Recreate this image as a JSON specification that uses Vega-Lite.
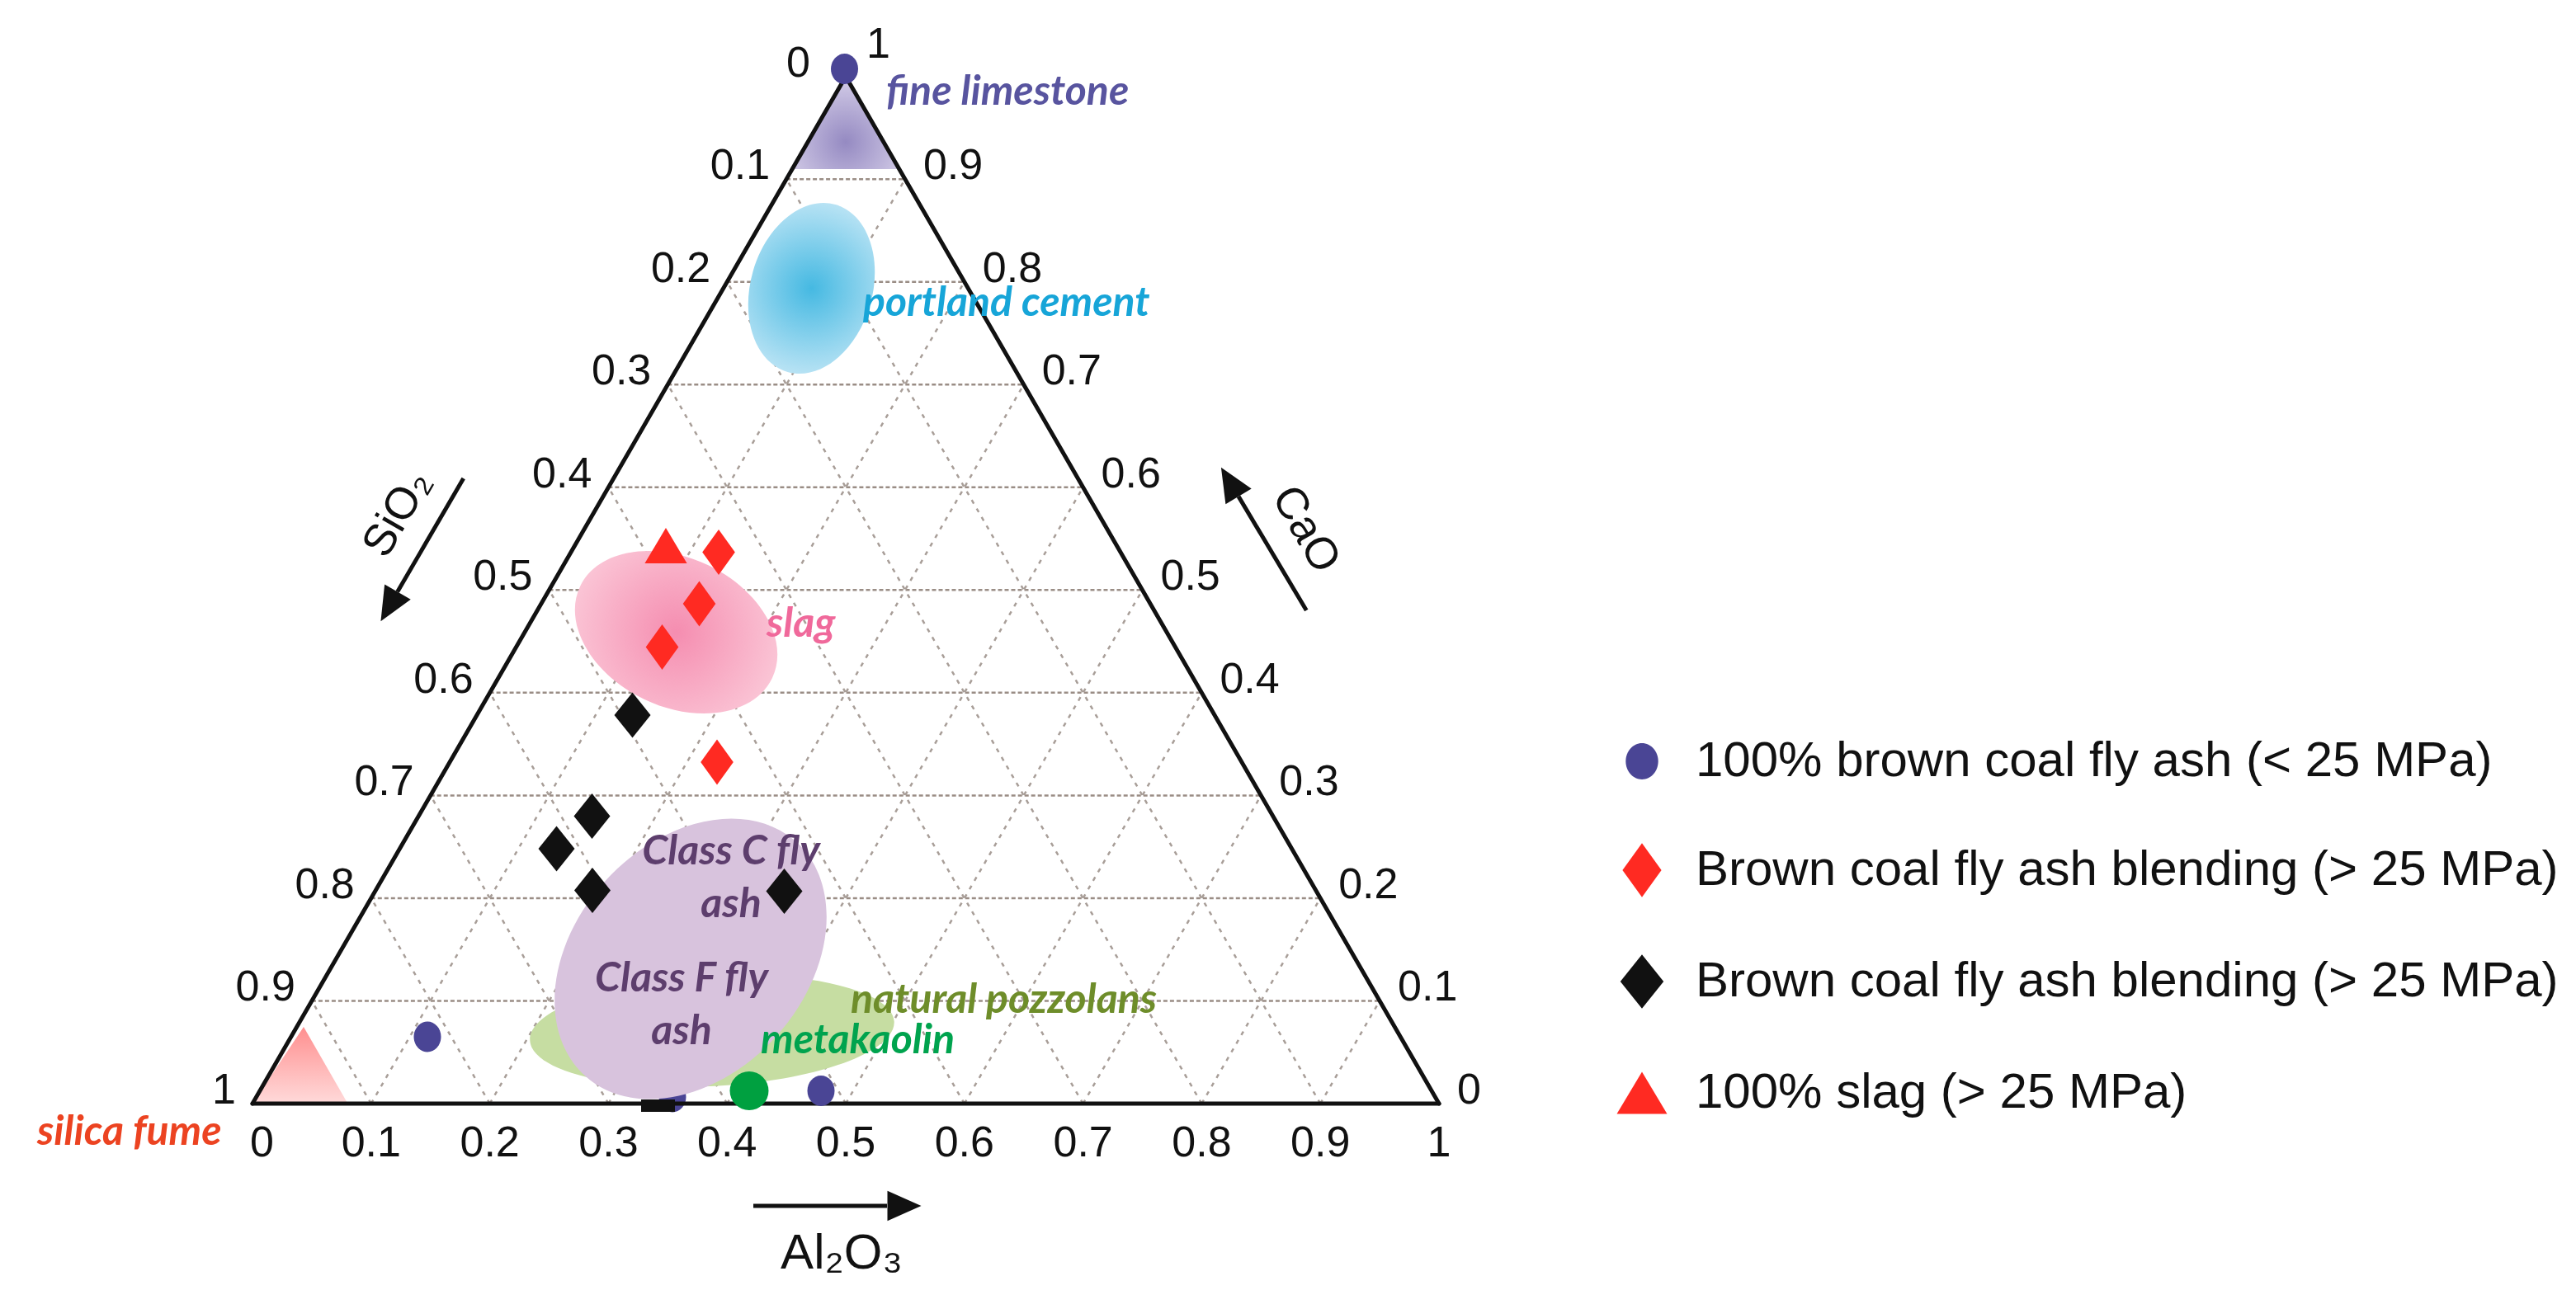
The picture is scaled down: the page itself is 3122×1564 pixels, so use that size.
{
  "$schema": "https://vega.github.io/schema/vega-lite/v6.json",
  "width": 3122,
  "height": 1564,
  "autosize": {"type": "none"},
  "padding": 0,
  "background": "white",
  "config": {"view": {"stroke": null}},
  "datasets": {
    "gridH": [
      {"u": 0.05, "v": 0.08660, "u2": 0.95, "v2": 0.08660},
      {"u": 0.10, "v": 0.17321, "u2": 0.90, "v2": 0.17321},
      {"u": 0.15, "v": 0.25981, "u2": 0.85, "v2": 0.25981},
      {"u": 0.20, "v": 0.34641, "u2": 0.80, "v2": 0.34641},
      {"u": 0.25, "v": 0.43301, "u2": 0.75, "v2": 0.43301},
      {"u": 0.30, "v": 0.51962, "u2": 0.70, "v2": 0.51962},
      {"u": 0.35, "v": 0.60622, "u2": 0.65, "v2": 0.60622},
      {"u": 0.40, "v": 0.69282, "u2": 0.60, "v2": 0.69282},
      {"u": 0.45, "v": 0.77942, "u2": 0.55, "v2": 0.77942}
    ],
    "gridD": [
      {"u": 0.1, "v": 0, "u2": 0.55, "v2": 0.77942},
      {"u": 0.2, "v": 0, "u2": 0.60, "v2": 0.69282},
      {"u": 0.3, "v": 0, "u2": 0.65, "v2": 0.60622},
      {"u": 0.4, "v": 0, "u2": 0.70, "v2": 0.51962},
      {"u": 0.5, "v": 0, "u2": 0.75, "v2": 0.43301},
      {"u": 0.6, "v": 0, "u2": 0.80, "v2": 0.34641},
      {"u": 0.7, "v": 0, "u2": 0.85, "v2": 0.25981},
      {"u": 0.8, "v": 0, "u2": 0.90, "v2": 0.17321},
      {"u": 0.9, "v": 0, "u2": 0.95, "v2": 0.08660},
      {"u": 0.1, "v": 0, "u2": 0.05, "v2": 0.08660},
      {"u": 0.2, "v": 0, "u2": 0.10, "v2": 0.17321},
      {"u": 0.3, "v": 0, "u2": 0.15, "v2": 0.25981},
      {"u": 0.4, "v": 0, "u2": 0.20, "v2": 0.34641},
      {"u": 0.5, "v": 0, "u2": 0.25, "v2": 0.43301},
      {"u": 0.6, "v": 0, "u2": 0.30, "v2": 0.51962},
      {"u": 0.7, "v": 0, "u2": 0.35, "v2": 0.60622},
      {"u": 0.8, "v": 0, "u2": 0.40, "v2": 0.69282},
      {"u": 0.9, "v": 0, "u2": 0.45, "v2": 0.77942}
    ],
    "frame": [
      {"u": 0, "v": 0, "u2": 1, "v2": 0},
      {"u": 1, "v": 0, "u2": 0.5, "v2": 0.866025},
      {"u": 0.5, "v": 0.866025, "u2": 0, "v2": 0}
    ],
    "regions": [
      {"region": "natural pozzolans", "u": 0.38734, "v": 0.06120},
      {"region": "fly ash", "u": 0.36926, "v": 0.12204},
      {"region": "portland cement", "u": 0.47114, "v": 0.68741},
      {"region": "slag", "u": 0.35709, "v": 0.39743}
    ],
    "corners": [
      {"region": "fine limestone", "pt": 1, "u": 0.5, "v": 0.866025},
      {"region": "fine limestone", "pt": 2, "u": 0.54511, "v": 0.78790},
      {"region": "fine limestone", "pt": 3, "u": 0.45489, "v": 0.78790},
      {"region": "silica fume", "pt": 1, "u": 0, "v": 0},
      {"region": "silica fume", "pt": 2, "u": 0.0803, "v": 0},
      {"region": "silica fume", "pt": 3, "u": 0.04312, "v": 0.06467}
    ],
    "points": [
      {"series": "100% brown coal fly ash (< 25 MPa)", "u": 0.49896, "v": 0.87239},
      {"series": "100% brown coal fly ash (< 25 MPa)", "u": 0.14743, "v": 0.05633},
      {"series": "100% brown coal fly ash (< 25 MPa)", "u": 0.47914, "v": 0.01078},
      {"series": "Brown coal fly ash blending (> 25 MPa)", "u": 0.39291, "v": 0.46488},
      {"series": "Brown coal fly ash blending (> 25 MPa)", "u": 0.37656, "v": 0.42142},
      {"series": "Brown coal fly ash blending (> 25 MPa)", "u": 0.34527, "v": 0.38491},
      {"series": "Brown coal fly ash blending (> 25 MPa)", "u": 0.39152, "v": 0.28790},
      {"series": "Brown coal fly ash blending (> 25 MPa) (black)", "u": 0.32024, "v": 0.32754},
      {"series": "Brown coal fly ash blending (> 25 MPa) (black)", "u": 0.28616, "v": 0.24235},
      {"series": "Brown coal fly ash blending (> 25 MPa) (black)", "u": 0.25626, "v": 0.21488},
      {"series": "Brown coal fly ash blending (> 25 MPa) (black)", "u": 0.28651, "v": 0.17976},
      {"series": "Brown coal fly ash blending (> 25 MPa) (black)", "u": 0.44819, "v": 0.17907},
      {"series": "100% slag (> 25 MPa)", "u": 0.34840, "v": 0.47045}
    ],
    "hiddenDot": [{"series": "100% brown coal fly ash (< 25 MPa)", "u": 0.35396, "v": 0.00556}],
    "metakaolinPt": [{"material": "metakaolin", "u": 0.41864, "v": 0.01078}],
    "baseMark": [{"series": "Brown coal fly ash blending (> 25 MPa)", "u": 0.34179, "v": -0.00174}],
    "regionLabels": [
      {"region": "fine limestone", "text": "fine limestone", "u": 0.53408, "v": 0.84214},
      {"region": "portland cement", "text": "portland cement", "u": 0.51460, "v": 0.66412},
      {"region": "slag", "text": "slag", "u": 0.43324, "v": 0.39360},
      {"region": "natural pozzolans", "text": "natural pozzolans", "u": 0.50417, "v": 0.07650},
      {"region": "metakaolin", "text": "metakaolin", "u": 0.42837, "v": 0.04242},
      {"region": "silica fume", "text": "silica fume", "u": -0.18150, "v": -0.03477}
    ],
    "flyAshLabels": [
      {"region": "fly ash", "text": "Class C fly\nash", "u": 0.40334, "v": 0.20167},
      {"region": "fly ash", "text": "Class F fly\nash", "u": 0.36161, "v": 0.09478}
    ],
    "ticksLeft": [
      {"label": "0", "u": 0.48401, "v": 0.866025},
      {"label": "0.1", "u": 0.45, "v": 0.77942},
      {"label": "0.2", "u": 0.40, "v": 0.69282},
      {"label": "0.3", "u": 0.35, "v": 0.60622},
      {"label": "0.4", "u": 0.30, "v": 0.51962},
      {"label": "0.5", "u": 0.25, "v": 0.43301},
      {"label": "0.6", "u": 0.20, "v": 0.34641},
      {"label": "0.7", "u": 0.15, "v": 0.25981},
      {"label": "0.8", "u": 0.10, "v": 0.17321},
      {"label": "0.9", "u": 0.05, "v": 0.08660},
      {"label": "1", "u": 0, "v": 0}
    ],
    "ticksRight": [
      {"label": "1", "u": 0.50209, "v": 0.88178},
      {"label": "0.9", "u": 0.55, "v": 0.77942},
      {"label": "0.8", "u": 0.60, "v": 0.69282},
      {"label": "0.7", "u": 0.65, "v": 0.60622},
      {"label": "0.6", "u": 0.70, "v": 0.51962},
      {"label": "0.5", "u": 0.75, "v": 0.43301},
      {"label": "0.4", "u": 0.80, "v": 0.34641},
      {"label": "0.3", "u": 0.85, "v": 0.25981},
      {"label": "0.2", "u": 0.90, "v": 0.17321},
      {"label": "0.1", "u": 0.95, "v": 0.08660},
      {"label": "0", "u": 1, "v": 0}
    ],
    "ticksBottom": [
      {"label": "0", "u": 0.008, "v": 0},
      {"label": "0.1", "u": 0.1, "v": 0},
      {"label": "0.2", "u": 0.2, "v": 0},
      {"label": "0.3", "u": 0.3, "v": 0},
      {"label": "0.4", "u": 0.4, "v": 0},
      {"label": "0.5", "u": 0.5, "v": 0},
      {"label": "0.6", "u": 0.6, "v": 0},
      {"label": "0.7", "u": 0.7, "v": 0},
      {"label": "0.8", "u": 0.8, "v": 0},
      {"label": "0.9", "u": 0.9, "v": 0},
      {"label": "1", "u": 1, "v": 0}
    ],
    "titles": [
      {"axis": "SiO2", "text": "SiO₂", "u": 0.12239, "v": 0.49722},
      {"axis": "CaO", "text": "CaO", "u": 0.88734, "v": 0.48401},
      {"axis": "Al2O3", "text": "Al₂O₃", "u": 0.49652, "v": -0.13908}
    ],
    "arrows": [
      {"axis": "SiO2", "u": 0.17782, "v": 0.52712, "u2": 0.12218, "v2": 0.43150},
      {"axis": "CaO", "u": 0.88825, "v": 0.41586, "u2": 0.83102, "v2": 0.51189},
      {"axis": "Al2O3", "u": 0.42211, "v": -0.08623, "u2": 0.53477, "v2": -0.08623}
    ],
    "heads": [
      {"axis": "SiO2", "u": 0.11523, "v": 0.41905},
      {"axis": "CaO", "u": 0.82371, "v": 0.52412},
      {"axis": "Al2O3", "u": 0.54937, "v": -0.08623}
    ]
  },
  "encoding": {
    "x": {"field": "u", "type": "quantitative", "scale": {"domain": [-0.212796, 1.958275], "nice": false, "zero": false}, "axis": null},
    "y": {"field": "v", "type": "quantitative", "scale": {"domain": [-0.157163, 0.930459], "nice": false, "zero": false}, "axis": null}
  },
  "resolve": {"scale": {"color": "independent", "shape": "independent"}, "legend": {"color": "independent", "shape": "independent"}},
  "layer": [
    {
      "data": {"name": "gridH"},
      "mark": {"type": "rule", "color": "#9a8d85", "strokeWidth": 2.5, "strokeDash": [5, 3]},
      "encoding": {"x2": {"field": "u2"}, "y2": {"field": "v2"}}
    },
    {
      "data": {"name": "gridD"},
      "mark": {"type": "rule", "color": "#a89e98", "strokeWidth": 2.5, "strokeDash": [5, 7]},
      "encoding": {"x2": {"field": "u2"}, "y2": {"field": "v2"}}
    },
    {
      "data": {"name": "hiddenDot"},
      "mark": {"type": "point", "filled": true, "opacity": 1, "size": 3025, "strokeWidth": 0, "color": "#4a4595",
        "shape": "M-0.6,0 C-0.6,-0.37 -0.3314,-0.67 0,-0.67 C0.3314,-0.67 0.6,-0.37 0.6,0 C0.6,0.37 0.3314,0.67 0,0.67 C-0.3314,0.67 -0.6,0.37 -0.6,0 Z"}
    },
    {
      "data": {"name": "regions"},
      "transform": [{"filter": "datum.region == 'natural pozzolans'"}],
      "mark": {"type": "point", "filled": true, "opacity": 1, "strokeWidth": 0, "size": 195364, "angle": 357,
        "fill": "#c6dda2",
        "shape": "M-1,0 C-1,-0.1674 -0.5523,-0.303 0,-0.303 C0.5523,-0.303 1,-0.1674 1,0 C1,0.1674 0.5523,0.303 0,0.303 C-0.5523,0.303 -1,0.1674 -1,0 Z"}
    },
    {
      "data": {"name": "regions"},
      "transform": [{"filter": "datum.region == 'fly ash'"}],
      "mark": {"type": "point", "filled": true, "opacity": 1, "strokeWidth": 0, "size": 145924, "angle": 312,
        "fill": "#d8c3dd",
        "shape": "M-1,0 C-1,-0.4048 -0.5523,-0.733 0,-0.733 C0.5523,-0.733 1,-0.4048 1,0 C1,0.4048 0.5523,0.733 0,0.733 C-0.5523,0.733 -1,0.4048 -1,0 Z"}
    },
    {
      "data": {"name": "regions"},
      "transform": [{"filter": "datum.region == 'portland cement'"}],
      "mark": {"type": "point", "filled": true, "opacity": 1, "strokeWidth": 0, "size": 44521, "angle": 16,
        "fill": {"gradient": "radial", "x1": 0.5, "y1": 0.5, "r1": 0, "x2": 0.5, "y2": 0.5, "r2": 0.55,
          "stops": [{"offset": 0, "color": "#45b9e2"}, {"offset": 1, "color": "#c4e7f6"}]},
        "shape": "M-0.7,0 C-0.7,-0.5523 -0.3866,-1 0,-1 C0.3866,-1 0.7,-0.5523 0.7,0 C0.7,0.5523 0.3866,1 0,1 C-0.3866,1 -0.7,0.5523 -0.7,0 Z"}
    },
    {
      "data": {"name": "regions"},
      "transform": [{"filter": "datum.region == 'slag'"}],
      "mark": {"type": "point", "filled": true, "opacity": 1, "strokeWidth": 0, "size": 66564, "angle": 25.6,
        "fill": {"gradient": "radial", "x1": 0.5, "y1": 0.5, "r1": 0, "x2": 0.5, "y2": 0.5, "r2": 0.55,
          "stops": [{"offset": 0, "color": "#f58db0"}, {"offset": 1, "color": "#fbcad9"}]},
        "shape": "M-1,0 C-1,-0.3855 -0.5523,-0.698 0,-0.698 C0.5523,-0.698 1,-0.3855 1,0 C1,0.3855 0.5523,0.698 0,0.698 C-0.5523,0.698 -1,0.3855 -1,0 Z"}
    },
    {
      "data": {"name": "corners"},
      "transform": [{"filter": "datum.region == 'fine limestone'"}],
      "mark": {"type": "line", "interpolate": "linear-closed", "strokeWidth": 0, "strokeOpacity": 0,
        "fill": {"gradient": "radial", "x1": 0.5, "y1": 0.68, "r1": 0, "x2": 0.5, "y2": 0.68, "r2": 0.6,
          "stops": [{"offset": 0, "color": "#958ac2"}, {"offset": 1, "color": "#d3cce7"}]}},
      "encoding": {"order": {"field": "pt", "type": "quantitative"}}
    },
    {
      "data": {"name": "corners"},
      "transform": [{"filter": "datum.region == 'silica fume'"}],
      "mark": {"type": "line", "interpolate": "linear-closed", "strokeWidth": 0, "strokeOpacity": 0,
        "fill": {"gradient": "linear", "x1": 0, "y1": 0, "x2": 0, "y2": 1,
          "stops": [{"offset": 0, "color": "#ff8f8f"}, {"offset": 1, "color": "#ffdada"}]}},
      "encoding": {"order": {"field": "pt", "type": "quantitative"}}
    },
    {
      "data": {"name": "frame"},
      "mark": {"type": "rule", "color": "#111111", "strokeWidth": 5, "strokeCap": "round"},
      "encoding": {"x2": {"field": "u2"}, "y2": {"field": "v2"}}
    },
    {
      "data": {"name": "metakaolinPt"},
      "mark": {"type": "point", "shape": "circle", "filled": true, "opacity": 1, "strokeWidth": 0, "size": 2206, "color": "#00a040"}
    },
    {
      "data": {"name": "points"},
      "mark": {"type": "point", "filled": true, "opacity": 1, "strokeWidth": 0, "size": 3025},
      "encoding": {
        "color": {"field": "series", "type": "nominal",
          "scale": {"domain": ["100% brown coal fly ash (< 25 MPa)", "Brown coal fly ash blending (> 25 MPa)", "Brown coal fly ash blending (> 25 MPa) (black)", "100% slag (> 25 MPa)"],
            "range": ["#4a4595", "#ff2a22", "#111111", "#ff2a22"]},
          "legend": {"orient": "none", "legendX": 1957, "legendY": 890, "title": null, "labelFont": "Liberation Sans", "labelFontSize": 60, "labelColor": "#111111", "labelLimit": 0, "labelOffset": 32, "symbolSize": 4300, "symbolStrokeWidth": 0, "rowPadding": 69, "labelExpr": "replace(datum.label, ' (black)', '')"}},
        "shape": {"field": "series", "type": "nominal",
          "scale": {"domain": ["100% brown coal fly ash (< 25 MPa)", "Brown coal fly ash blending (> 25 MPa)", "Brown coal fly ash blending (> 25 MPa) (black)", "100% slag (> 25 MPa)"],
            "range": [
              "M-0.6,0 C-0.6,-0.37 -0.3314,-0.67 0,-0.67 C0.3314,-0.67 0.6,-0.37 0.6,0 C0.6,0.37 0.3314,0.67 0,0.67 C-0.3314,0.67 -0.6,0.37 -0.6,0 Z",
              "M0,-1 L0.72,0 L0,1 L-0.72,0 Z",
              "M0,-1 L0.8,0 L0,1 L-0.8,0 Z",
              "M0,-0.78 L0.93,0.78 L-0.93,0.78 Z"
            ]},
          "legend": {"orient": "none", "legendX": 1957, "legendY": 890, "title": null, "labelFont": "Liberation Sans", "labelFontSize": 60, "labelColor": "#111111", "labelLimit": 0, "labelOffset": 32, "symbolSize": 4300, "symbolStrokeWidth": 0, "rowPadding": 69, "labelExpr": "replace(datum.label, ' (black)', '')"}}
      }
    },
    {
      "data": {"name": "baseMark"},
      "mark": {"type": "point", "filled": true, "opacity": 1, "strokeWidth": 0, "size": 1681, "color": "#111111",
        "shape": "M-1,-0.37 L1,-0.37 L1,0.37 L-1,0.37 Z"}
    },
    {
      "data": {"name": "regionLabels"},
      "mark": {"type": "text", "font": "Lato", "fontStyle": "italic", "fontWeight": "bold", "fontSize": 50, "align": "left", "baseline": "alphabetic"},
      "encoding": {
        "text": {"field": "text"},
        "color": {"field": "region", "type": "nominal", "legend": null,
          "scale": {"domain": ["fine limestone", "portland cement", "slag", "natural pozzolans", "metakaolin", "silica fume"],
            "range": ["#58549f", "#17a5d8", "#f0699b", "#6e8d2a", "#00a34e", "#ec4321"]}}
      }
    },
    {
      "data": {"name": "flyAshLabels"},
      "mark": {"type": "text", "font": "Lato", "fontStyle": "italic", "fontWeight": "bold", "fontSize": 50, "align": "center", "baseline": "alphabetic", "lineBreak": "\n", "lineHeight": 64, "color": "#5d3e6d"},
      "encoding": {"text": {"field": "text"}}
    },
    {
      "data": {"name": "ticksLeft"},
      "mark": {"type": "text", "font": "Liberation Sans", "fontSize": 52, "align": "right", "baseline": "alphabetic", "dx": -20, "color": "#111111"},
      "encoding": {"text": {"field": "label"}}
    },
    {
      "data": {"name": "ticksRight"},
      "mark": {"type": "text", "font": "Liberation Sans", "fontSize": 52, "align": "left", "baseline": "alphabetic", "dx": 22, "color": "#111111"},
      "encoding": {"text": {"field": "label"}}
    },
    {
      "data": {"name": "ticksBottom"},
      "mark": {"type": "text", "font": "Liberation Sans", "fontSize": 52, "align": "center", "baseline": "alphabetic", "dy": 64, "color": "#111111"},
      "encoding": {"text": {"field": "label"}}
    },
    {
      "data": {"name": "titles"},
      "transform": [{"filter": "datum.axis == 'SiO2'"}],
      "mark": {"type": "text", "font": "Liberation Sans", "fontSize": 54, "align": "center", "baseline": "middle", "angle": 300, "color": "#111111"},
      "encoding": {"text": {"field": "text"}}
    },
    {
      "data": {"name": "titles"},
      "transform": [{"filter": "datum.axis == 'CaO'"}],
      "mark": {"type": "text", "font": "Liberation Sans", "fontSize": 54, "align": "center", "baseline": "middle", "angle": 60, "color": "#111111"},
      "encoding": {"text": {"field": "text"}}
    },
    {
      "data": {"name": "titles"},
      "transform": [{"filter": "datum.axis == 'Al2O3'"}],
      "mark": {"type": "text", "font": "Liberation Sans", "fontSize": 60, "align": "center", "baseline": "alphabetic", "color": "#111111"},
      "encoding": {"text": {"field": "text"}}
    },
    {
      "data": {"name": "arrows"},
      "mark": {"type": "rule", "color": "#111111", "strokeWidth": 5},
      "encoding": {"x2": {"field": "u2"}, "y2": {"field": "v2"}}
    },
    {
      "data": {"name": "heads"},
      "transform": [{"filter": "datum.axis == 'SiO2'"}],
      "mark": {"type": "point", "filled": true, "opacity": 1, "strokeWidth": 0, "size": 1681, "angle": 210, "color": "#111111", "shape": "M0,-1 L0.89,1 L-0.89,1 Z"}
    },
    {
      "data": {"name": "heads"},
      "transform": [{"filter": "datum.axis == 'CaO'"}],
      "mark": {"type": "point", "filled": true, "opacity": 1, "strokeWidth": 0, "size": 1681, "angle": 329, "color": "#111111", "shape": "M0,-1 L0.89,1 L-0.89,1 Z"}
    },
    {
      "data": {"name": "heads"},
      "transform": [{"filter": "datum.axis == 'Al2O3'"}],
      "mark": {"type": "point", "filled": true, "opacity": 1, "strokeWidth": 0, "size": 1681, "angle": 90, "color": "#111111", "shape": "M0,-1 L0.89,1 L-0.89,1 Z"}
    }
  ]
}
